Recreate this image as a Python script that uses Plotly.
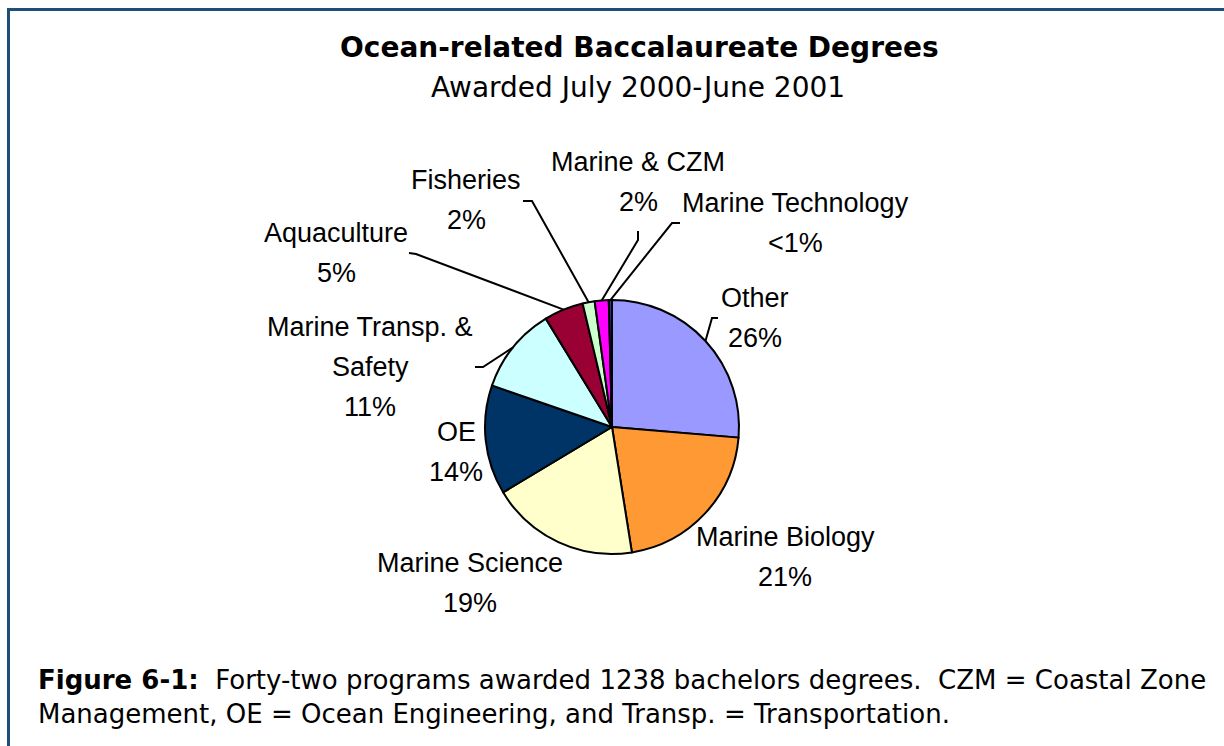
import math
import plotly.graph_objects as go

# ---- data ----
categories = ["Other", "Marine Biology", "Marine Science", "OE", "Marine Transp. & Safety",
              "Aquaculture", "Fisheries", "Marine & CZM", "Marine Technology"]
degrees = [326, 262, 234, 172, 136, 62, 19, 22, 5]
label_lines = [["Other", "26%"], ["Marine Biology", "21%"], ["Marine Science", "19%"],
               ["OE", "14%"], ["Marine Transp. &", "Safety", "11%"], ["Aquaculture", "5%"],
               ["Fisheries", "2%"], ["Marine & CZM", "2%"], ["Marine Technology", "<1%"]]
colors = ["#9999FF", "#FF9933", "#FFFFCC", "#003366", "#CCFFFF",
          "#990033", "#CCFFCC", "#FF00FF", "#333399"]

W, H = 1224, 746
# pie placement (pixels)
CX, CY, R = 612, 427, 127

# label positions (pixel centre of first line) and leader-line elbows
label_pos = [(755, 298), (785, 537), (470, 563), (456, 432), (370, 327),
             (336, 233), (466, 180), (638, 162), (795, 203)]
leaders = {  # index: list of elbow points (label side first)
    0: [(718, 318), (712, 318)],
    4: [(475, 367), (483, 367)],
    5: [(409, 253), (416, 254)],
    6: [(523, 201), (532, 201)],
    7: [(638, 231), (638, 240)],
    8: [(680, 223), (672, 223)],
}
LINE_GAP = 40

def px(x):
    return x / W

def py(y):
    return 1 - y / H

fig = go.Figure(go.Pie(
    labels=categories, values=degrees, sort=False, direction="clockwise", rotation=0,
    marker=dict(colors=colors, line=dict(color="black", width=2)),
    textinfo="none", hoverinfo="label+value+percent", showlegend=False,
    domain=dict(x=[px(CX - R), px(CX + R)], y=[py(CY + R), py(CY - R)]),
))

annotations = []
for lines, (lx, ly) in zip(label_lines, label_pos):
    for k, t in enumerate(lines):
        annotations.append(dict(text=t, x=px(lx), y=py(ly + k * LINE_GAP), xref="paper", yref="paper",
                                xanchor="center", yanchor="middle", showarrow=False,
                                font=dict(family="Liberation Sans, Arial", size=27, color="black")))

shapes = []
total = sum(degrees)
cum = 0
mids = []
for v in degrees:
    mids.append((cum + v / 2) / total * 2 * math.pi)
    cum += v
for i, pts in leaders.items():
    a = mids[i]
    ex, ey = CX + R * math.sin(a), CY - R * math.cos(a)
    path_pts = pts + [(ex, ey)]
    d = "M " + " L ".join(f"{px(x):.5f},{py(y):.5f}" for x, y in path_pts)
    shapes.append(dict(type="path", path=d, xref="paper", yref="paper",
                       line=dict(color="black", width=2)))

# frame
shapes.append(dict(type="path", xref="paper", yref="paper",
                   path=f"M {px(8.5)},0 L {px(8.5)},{py(9.5)} L 1,{py(9.5)}",
                   line=dict(color="#1F4E79", width=3)))

annotations += [
    dict(text="<b>Ocean-related Baccalaureate Degrees</b>", x=px(639), y=py(47), xref="paper", yref="paper",
         xanchor="center", yanchor="middle", showarrow=False,
         font=dict(family="DejaVu Sans", size=28, color="black")),
    dict(text="Awarded July 2000-June 2001", x=px(638), y=py(88), xref="paper", yref="paper",
         xanchor="center", yanchor="middle", showarrow=False,
         font=dict(family="DejaVu Sans", size=28, color="black")),
    dict(text="<b>Figure 6-1:</b>  Forty-two programs awarded 1238 bachelors degrees.  CZM = Coastal Zone",
         x=px(36), y=py(680), xref="paper", yref="paper", xanchor="left", yanchor="middle", showarrow=False,
         font=dict(family="DejaVu Sans", size=26, color="black")),
    dict(text="Management, OE = Ocean Engineering, and Transp. = Transportation.",
         x=px(36), y=py(714), xref="paper", yref="paper", xanchor="left", yanchor="middle", showarrow=False,
         font=dict(family="DejaVu Sans", size=26, color="black")),
]

fig.update_layout(width=W, height=H, margin=dict(l=0, r=0, t=0, b=0),
                  paper_bgcolor="white", plot_bgcolor="white",
                  annotations=annotations, shapes=shapes)
fig.write_html("out.html", config={"displayModeBar": False},
               post_script="document.body.style.margin='0';document.body.style.overflow='hidden';")
